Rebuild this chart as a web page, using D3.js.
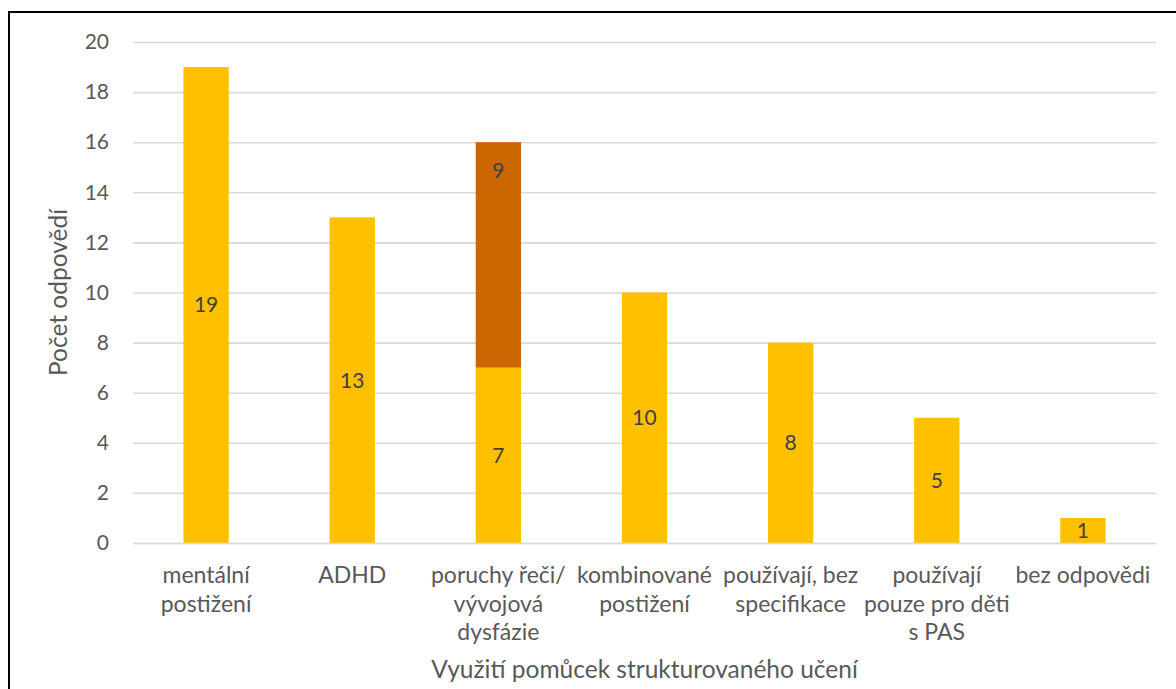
<!DOCTYPE html>
<html lang="cs">
<head>
<meta charset="utf-8">
<title>Využití pomůcek strukturovaného učení</title>
<script src="https://cdn.jsdelivr.net/npm/d3@7"></script>
<style>
  html, body { margin: 0; padding: 0; background: #fff; }
  svg { display: block; font-family: Lato, "Open Sans", sans-serif; }
</style>
</head>
<body>
<svg id="chart" width="1176" height="689"></svg>
<script>
// Category labels, one entry per line of the wrapped label
const categoryLines = [
  ["mentální", "postižení"],
  ["ADHD"],
  ["poruchy řeči/", "vývojová", "dysfázie"],
  ["kombinované", "postižení"],
  ["používají, bez", "specifikace"],
  ["používají", "pouze pro děti", "s PAS"],
  ["bez odpovědi"]
];
const categories = categoryLines.map(l => l.join(" "));

// Number of responses: base series and the stacked extra segment
const baseValues  = [19, 13, 7, 10, 8, 5, 1];
const extraValues = [0, 0, 9, 0, 0, 0, 0];

const yTicks = [0, 2, 4, 6, 8, 10, 12, 14, 16, 18, 20];
const yTitle = "Počet odpovědí";
const xTitle = "Využití pomůcek strukturovaného učení";

const colorBase = "#FFC000";
const colorExtra = "#CC6600";
const textColor = "#595959";
const gridColor = "#D9D9D9";

const svg = d3.select("#chart");
const W = 1176, H = 689;
const plot = { left: 133, right: 1156, top: 42, bottom: 543 };

// Chart frame
svg.append("rect")
  .attr("x", 9).attr("y", 12)
  .attr("width", W + 20).attr("height", H + 20)
  .attr("fill", "#fff")
  .attr("stroke", "#000")
  .attr("stroke-width", 2);

const x = d3.scaleBand()
  .domain(categories)
  .range([plot.left, plot.right])
  .paddingInner(0.69)
  .paddingOuter(0.345);

const y = d3.scaleLinear()
  .domain([0, 20])
  .range([plot.bottom, plot.top]);

// Horizontal gridlines
const grid = svg.append("g")
  .attr("transform", `translate(${plot.left},0)`)
  .call(d3.axisLeft(y).tickValues(yTicks).tickSize(-(plot.right - plot.left)).tickFormat(""));
grid.select(".domain").remove();
grid.selectAll(".tick line").attr("stroke", gridColor).attr("stroke-width", 1.6);

// Y axis tick labels
const yAxis = svg.append("g")
  .attr("transform", `translate(${plot.left},0)`)
  .call(d3.axisLeft(y).tickValues(yTicks).tickSize(0).tickPadding(24));
yAxis.select(".domain").remove();
yAxis.selectAll("text")
  .attr("fill", textColor)
  .style("font-size", "21px")
  .style("font-family", "Lato, sans-serif");

// Stacked bars
const stacked = categories.map((c, i) => ({
  cat: c,
  base: baseValues[i],
  extra: extraValues[i]
}));

const bars = svg.append("g");
bars.selectAll("rect.base")
  .data(stacked)
  .join("rect")
  .attr("class", "base")
  .attr("x", d => x(d.cat))
  .attr("width", x.bandwidth())
  .attr("y", d => y(d.base))
  .attr("height", d => y(0) - y(d.base))
  .attr("fill", colorBase);

bars.selectAll("rect.extra")
  .data(stacked.filter(d => d.extra > 0))
  .join("rect")
  .attr("class", "extra")
  .attr("x", d => x(d.cat))
  .attr("width", x.bandwidth())
  .attr("y", d => y(d.base + d.extra))
  .attr("height", d => y(d.base) - y(d.base + d.extra))
  .attr("fill", colorExtra);

// Value labels: base segment labelled at its middle, extra segment near its top
const labels = svg.append("g")
  .attr("fill", "#404040")
  .style("font-size", "21px")
  .attr("text-anchor", "middle");

labels.selectAll("text.base")
  .data(stacked)
  .join("text")
  .attr("class", "base")
  .attr("x", d => x(d.cat) + x.bandwidth() / 2)
  .attr("y", d => y(d.base / 2))
  .attr("dy", "0.35em")
  .text(d => d.base);

labels.selectAll("text.extra")
  .data(stacked.filter(d => d.extra > 0))
  .join("text")
  .attr("class", "extra")
  .attr("x", d => x(d.cat) + x.bandwidth() / 2)
  .attr("y", d => y(d.base + d.extra) + 28)
  .attr("dy", "0.35em")
  .text(d => d.extra);

// Baseline axis with wrapped category labels
const xAxis = svg.append("g")
  .attr("transform", `translate(0,${plot.bottom})`)
  .call(d3.axisBottom(x).tickSize(0).tickFormat(""));
xAxis.select(".domain").attr("stroke", gridColor).attr("stroke-width", 1.6);

const catLabels = svg.append("g")
  .attr("fill", textColor)
  .style("font-size", "23px")
  .attr("text-anchor", "middle");

catLabels.selectAll("text")
  .data(categories)
  .join("text")
  .attr("x", d => x(d) + x.bandwidth() / 2)
  .attr("y", plot.bottom + 40)
  .each(function (d, i) {
    d3.select(this).selectAll("tspan")
      .data(categoryLines[i])
      .join("tspan")
      .attr("x", x(d) + x.bandwidth() / 2)
      .attr("dy", (t, j) => j === 0 ? 0 : 28.5)
      .text(t => t);
  });

// Axis titles
svg.append("text")
  .attr("x", (plot.left + plot.right) / 2)
  .attr("y", 678)
  .attr("text-anchor", "middle")
  .attr("fill", textColor)
  .style("font-size", "24.5px")
  .text(xTitle);

svg.append("text")
  .attr("transform", `translate(67,${(plot.top + plot.bottom) / 2}) rotate(-90)`)
  .attr("text-anchor", "middle")
  .attr("fill", textColor)
  .style("font-size", "24.5px")
  .text(yTitle);
</script>
</body>
</html>
